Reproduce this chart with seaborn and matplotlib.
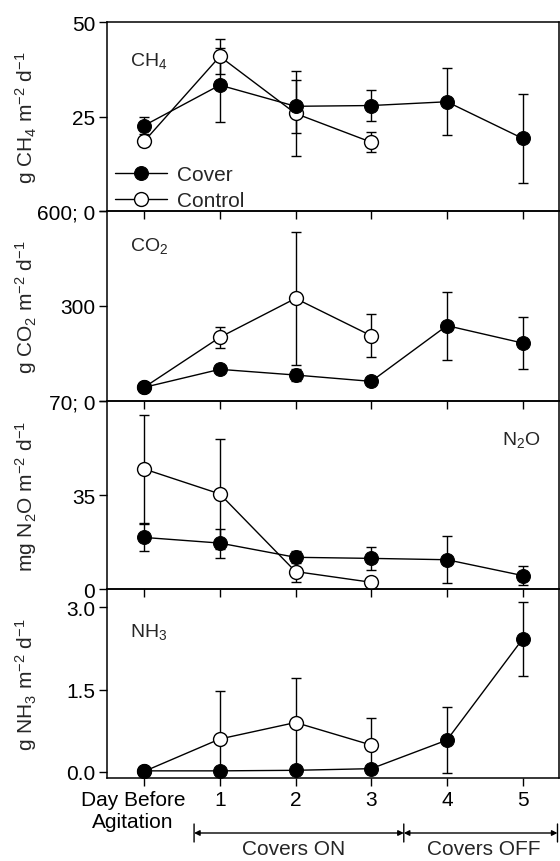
import numpy as np
import pandas as pd
import seaborn as sns
from matplotlib import pyplot as plt
import matplotlib.transforms as mtransforms

sns.set_style("ticks")
plt.rcParams['font.family'] = ['Liberation Sans', 'DejaVu Sans']
plt.rcParams['mathtext.default'] = 'regular'

# data
days = [0, 1, 2, 3, 4, 5]
day_labels = ['Day Before\nAgitation', '1', '2', '3', '4', '5']

ch4_cover = [22.6, 33.3, 27.7, 27.9, 28.9, 19.2]
ch4_cover_err = [2.2, 9.7, 7.0, 4.0, 8.9, 11.7]
ch4_control = [18.4, 40.9, 25.8, 18.2]
ch4_control_err = [1.2, 4.7, 11.2, 2.6]

co2_cover = [43, 100, 82, 62, 238, 183]
co2_cover_err = [5, 8, 20, 6, 107, 83]
co2_control = [43, 201, 324, 206]
co2_control_err = [5, 34, 210, 68]

n2o_cover = [19.2, 17.1, 11.8, 11.4, 10.9, 5.0]
n2o_cover_err = [5.0, 5.4, 2.2, 4.3, 8.8, 3.6]
n2o_control = [44.7, 35.4, 6.5, 2.5]
n2o_control_err = [20.0, 20.4, 4.0, 0.8]

nh3_cover = [0.02, 0.02, 0.03, 0.06, 0.58, 2.42]
nh3_cover_err = [0.01, 0.01, 0.01, 0.02, 0.60, 0.67]
nh3_control = [0.01, 0.60, 0.90, 0.49]
nh3_control_err = [0.01, 0.87, 0.81, 0.50]

FS = 15

panels = [
    dict(cover=ch4_cover, cerr=ch4_cover_err, ctrl=ch4_control, kerr=ch4_control_err,
         ylim=(0, 50), ticks=[0, 25, 50], labels=['', '25', '50'],
         ylabel='g CH$_4$ m$^{-2}$ d$^{-1}$', name='CH$_4$', name_xy=(0.05, 0.80)),
    dict(cover=co2_cover, cerr=co2_cover_err, ctrl=co2_control, kerr=co2_control_err,
         ylim=(0, 600), ticks=[0, 300, 600], labels=['70; 0', '300', '600; 0'],
         ylabel='g CO$_2$ m$^{-2}$ d$^{-1}$', name='CO$_2$', name_xy=(0.05, 0.82)),
    dict(cover=n2o_cover, cerr=n2o_cover_err, ctrl=n2o_control, kerr=n2o_control_err,
         ylim=(0, 70), ticks=[0, 35, 70], labels=['0', '35', ''],
         ylabel='mg N$_2$O m$^{-2}$ d$^{-1}$', name='N$_2$O', name_xy=(0.875, 0.80)),
    dict(cover=nh3_cover, cerr=nh3_cover_err, ctrl=nh3_control, kerr=nh3_control_err,
         ylim=(-0.11, 3.33), ticks=[0, 1.5, 3.0], labels=['0.0', '1.5', '3.0'],
         ylabel='g NH$_3$ m$^{-2}$ d$^{-1}$', name='NH$_3$', name_xy=(0.05, 0.78)),
]

fig = plt.figure(figsize=(5.6, 8.62), dpi=100)
edges = [23, 212, 402, 590, 779]  # panel borders in pixels from top
H = 862.0
left, width = 107 / 560, 452 / 560

axes = []
for i, p in enumerate(panels):
    bottom = 1 - edges[i + 1] / H
    height = (edges[i + 1] - edges[i]) / H
    ax = fig.add_axes([left, bottom, width, height])
    ax.set_facecolor('none')
    axes.append(ax)

    dfc = pd.DataFrame({'day': days, 'val': p['cover']})
    dfk = pd.DataFrame({'day': days[:len(p['ctrl'])], 'val': p['ctrl']})

    ax.errorbar(dfc['day'], dfc['val'], yerr=p['cerr'], fmt='none', ecolor='black',
                elinewidth=1, capsize=3.5, capthick=1, zorder=2)
    ax.errorbar(dfk['day'], dfk['val'], yerr=p['kerr'], fmt='none', ecolor='black',
                elinewidth=1, capsize=3.5, capthick=1, zorder=2)
    sns.lineplot(data=dfc, x='day', y='val', ax=ax, color='black', lw=1, marker='o',
                 markersize=10, markerfacecolor='black', markeredgecolor='black',
                 label='Cover', zorder=4)
    sns.lineplot(data=dfk, x='day', y='val', ax=ax, color='black', lw=1, marker='o',
                 markersize=10, markerfacecolor='white', markeredgecolor='black',
                 markeredgewidth=1, label='Control', zorder=3)

    ax.set_xlim(-0.49, 5.48)
    ax.set_ylim(*p['ylim'])
    ax.set_yticks(p['ticks'])
    ax.set_yticklabels(p['labels'], fontsize=FS)
    ax.set_xticks(days)
    ax.set_xlabel('')
    ax.set_ylabel(p['ylabel'], fontsize=FS)
    ax.yaxis.set_label_coords(-0.15, 0.5)
    ax.tick_params(axis='both', direction='out', length=5.5, width=1, colors='black', pad=3)
    for s in ax.spines.values():
        s.set_linewidth(1.1)
        s.set_color('black')
    ax.text(p['name_xy'][0], p['name_xy'][1], p['name'], transform=ax.transAxes,
            fontsize=FS - 1, ha='left', va='center')

    if i == 0:
        ax.legend(loc='lower left', bbox_to_anchor=(0.015, 0.0), frameon=False,
                  fontsize=FS, handlelength=2.5, handletextpad=0.5,
                  labelspacing=0.33, borderaxespad=0.0, borderpad=0.05)
    elif ax.get_legend():
        ax.get_legend().remove()

    if i < 3:
        ax.set_xticklabels([])
    else:
        ax.set_xticklabels(day_labels, fontsize=FS)
        offset = mtransforms.ScaledTranslation(-0.11, 0, fig.dpi_scale_trans)
        lab = ax.get_xticklabels()[0]
        lab.set_transform(lab.get_transform() + offset)

# period arrows under the x axis
ax4 = axes[-1]
y_arr = 1 - 834 / H
for x0, x1 in [(0.66, 3.43), (3.43, 5.46)]:
    ax4.annotate('', xy=(x0, y_arr), xytext=(x1, y_arr),
                 xycoords=('data', 'figure fraction'),
                 textcoords=('data', 'figure fraction'),
                 arrowprops=dict(arrowstyle='<|-|>', color='black', lw=1,
                                 mutation_scale=8, shrinkA=0, shrinkB=0))
for xb in [0.66, 3.43, 5.46]:
    ax4.annotate('', xy=(xb, 1 - 825 / H), xytext=(xb, 1 - 843 / H),
                 xycoords=('data', 'figure fraction'),
                 textcoords=('data', 'figure fraction'),
                 arrowprops=dict(arrowstyle='-', color='black', lw=1,
                                 shrinkA=0, shrinkB=0))
ax4.annotate('Covers ON', xy=(1.97, 1 - 850 / H), xycoords=('data', 'figure fraction'),
             ha='center', va='center', fontsize=FS)
ax4.annotate('Covers OFF', xy=(4.49, 1 - 850 / H), xycoords=('data', 'figure fraction'),
             ha='center', va='center', fontsize=FS)

fig.savefig('out.png', dpi=100)
